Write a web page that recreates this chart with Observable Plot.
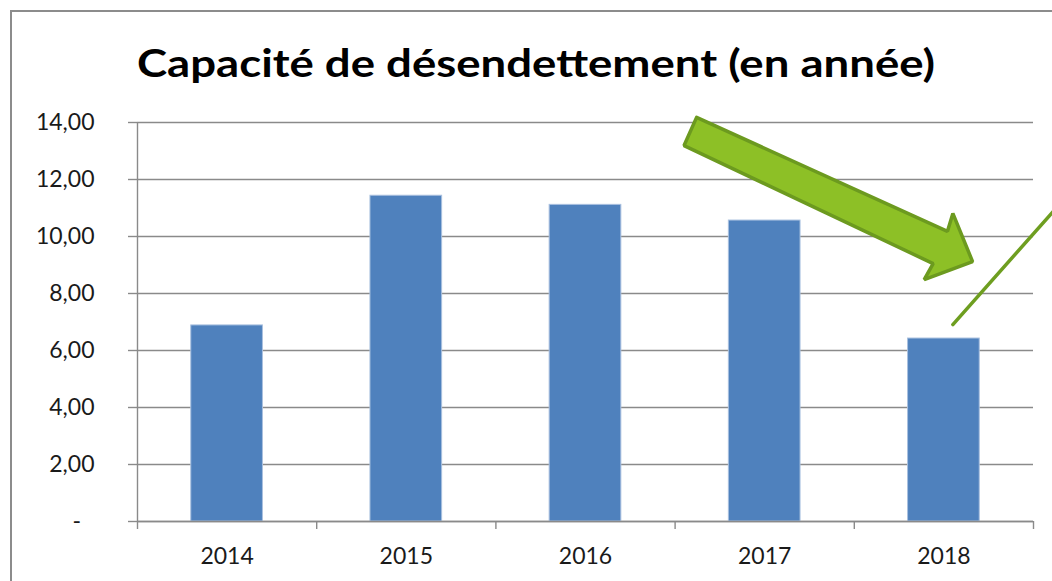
<!DOCTYPE html>
<html>
<head>
<meta charset="utf-8">
<script src="https://cdn.jsdelivr.net/npm/d3@7"></script>
<script src="https://cdn.jsdelivr.net/npm/@observablehq/plot@0.6"></script>
<style>
  html, body { margin: 0; padding: 0; background: #fff; }
  #wrap { position: relative; width: 1052px; height: 581px; overflow: hidden; }
  #frame { position: absolute; left: 10px; top: 10px; width: 1100px; height: 700px;
           border-left: 2px solid #8c8c8c; border-top: 2px solid #8c8c8c; box-sizing: border-box; }
  #title { position: absolute; left: 536px; top: 39px; white-space: nowrap;
           font-family: Lato, "Open Sans", sans-serif; font-weight: 700; font-size: 39px; color: #000;
           transform-origin: 0 0; }
  #chart { position: absolute; left: 0; top: 0; }
</style>
</head>
<body>
<div id="wrap">
  <div id="frame"></div>
  <div id="chart"></div>
  <div id="title">Capacité de désendettement (en année)</div>
</div>
<script>
// Data
const years = [2014, 2015, 2016, 2017, 2018];
const values = [6.88, 11.43, 11.11, 10.56, 6.42];
const yTicks = [0, 2, 4, 6, 8, 10, 12, 14];
const categoryBounds = [2013.5, 2014.5, 2015.5, 2016.5, 2017.5, 2018.5];

// Annotation shapes, in data coordinates (year, value)
const arrowX = [2016.62, 2018.02, 2018.05, 2018.16, 2017.89, 2017.94, 2016.55, 2016.62];
const arrowY = [14.18, 10.18, 10.81, 9.12, 8.49, 9.05, 13.19, 14.18];
const lineX = [2018.05, 2018.62];
const lineY = [6.91, 10.95];

const bars = years.map((y, i) => ({year: y, value: values[i]}));
const arrow = arrowX.map((x, i) => ({x, y: arrowY[i]}));
const pointer = lineX.map((x, i) => ({x, y: lineY[i]}));

const grey = "#8a8a8a";
const fmt = d => d === 0 ? "-\u2007" : d.toFixed(2).replace(".", ",");

const chart = Plot.plot({
  width: 1052,
  height: 581,
  marginLeft: 137,
  marginRight: 19,
  marginTop: 122,
  marginBottom: 60,
  style: {fontFamily: "Lato, 'Open Sans', sans-serif", fontSize: "23px", color: "#1a1a1a", background: "transparent", overflow: "visible"},
  x: {domain: [2013.5, 2018.5]},
  y: {domain: [0, 14]},
  marks: [
    Plot.ruleY(yTicks, {stroke: grey, strokeWidth: 1.4, strokeOpacity: 1}),
    Plot.axisY({ticks: yTicks, tickSize: 9, tickPadding: 34, tickFormat: fmt, stroke: grey, strokeWidth: 1.4, strokeOpacity: 1, label: null}),
    Plot.ruleX([2013.5], {stroke: grey, strokeWidth: 1.4, strokeOpacity: 1}),
    Plot.rectY(bars, {x1: d => d.year - 0.2, x2: d => d.year + 0.2, y: "value", fill: "#4F81BD", stroke: "#a9c0df", strokeWidth: 1}),
    Plot.axisX({ticks: categoryBounds, tickSize: 8, tickFormat: () => "", stroke: grey, strokeWidth: 1.4, strokeOpacity: 1, label: null}),
    Plot.axisX({ticks: years, tickSize: 0, tickPadding: 26, tickFormat: d => String(d), label: null}),
    Plot.ruleY([0], {stroke: grey, strokeWidth: 1.4}),
    Plot.line(arrow, {x: "x", y: "y", fill: "#8DC026", stroke: "#6C9A1F", strokeWidth: 3.5, strokeLinejoin: "miter", curve: "linear"}),
    Plot.line(pointer, {x: "x", y: "y", stroke: "#6E9E20", strokeWidth: 3.5, strokeLinecap: "round"})
  ]
});
document.getElementById("chart").appendChild(chart);

// Stretch the title horizontally to the reference's width, centred on the plot
const t = document.getElementById("title");
const w = t.getBoundingClientRect().width;
const target = 798;
const s = target / w;
t.style.left = (536 - target / 2) + "px";
t.style.transform = `scaleX(${s})`;
</script>
</body>
</html>
